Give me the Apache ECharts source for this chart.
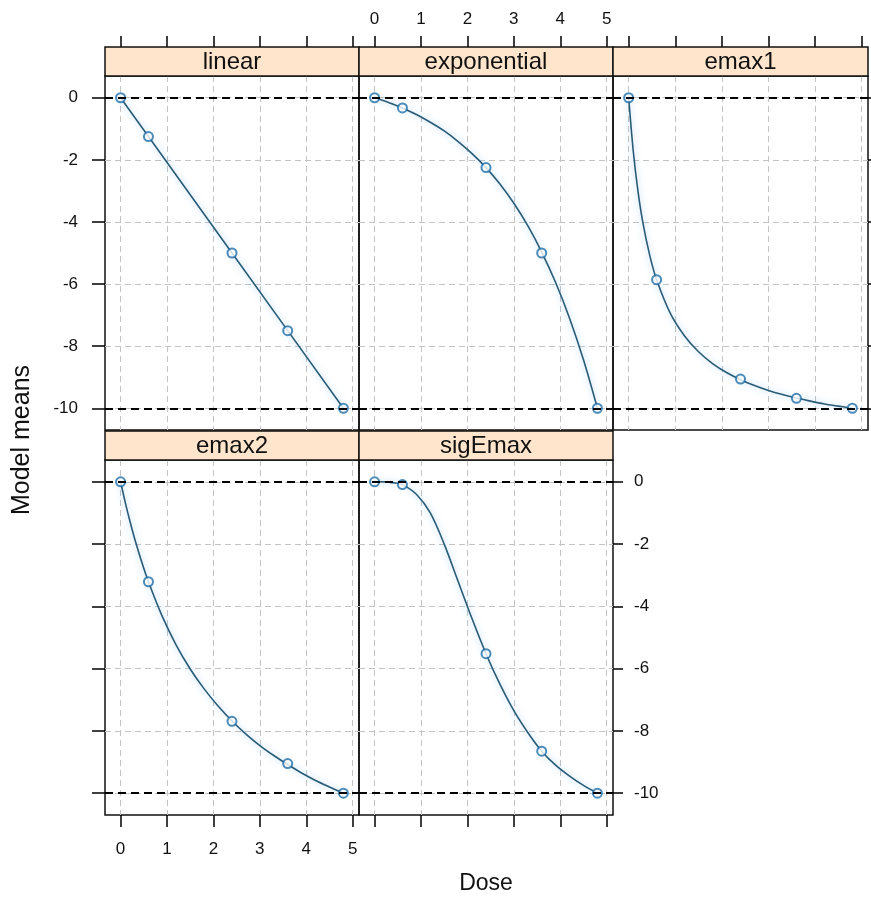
<!DOCTYPE html>
<html>
<head>
<meta charset="utf-8">
<title>Model means</title>
<script src="https://cdn.jsdelivr.net/npm/echarts@6/dist/echarts.min.js"></script>
<style>
  html, body { margin: 0; padding: 0; background: #fff; }
  #chart { width: 871px; height: 901px; }
</style>
</head>
<body>
<div id="chart"></div>
<script>
// doses and model means at the design points
const dose = [0, 0.6, 2.4, 3.6, 4.8]
const linearMeans = [0, -1.25, -5, -7.5, -10]
const exponentialMeans = [0, -0.33, -2.25, -5.0, -10]
const emax1Means = [0, -5.86, -9.06, -9.68, -10]
const emax2Means = [0, -3.21, -7.69, -9.05, -10]
const sigEmaxMeans = [0, -0.09, -5.52, -8.65, -10]

// fitted curves
const curveDose = [0, 0.1, 0.2, 0.3, 0.45, 0.6, 0.9, 1.2, 1.5, 1.8, 2.1, 2.4, 2.7, 3.0, 3.3, 3.6, 3.9, 4.2, 4.5, 4.8]
const exponentialCurve = [0, -0.05, -0.1, -0.15, -0.24, -0.33, -0.54, -0.79, -1.07, -1.41, -1.8, -2.25, -2.78, -3.4, -4.12, -4.97, -5.95, -7.1, -8.44, -10]
const emax1Curve = [0, -1.74, -3.01, -3.98, -5.06, -5.86, -6.96, -7.67, -8.18, -8.56, -8.85, -9.08, -9.27, -9.43, -9.56, -9.67, -9.77, -9.86, -9.93, -10]
const emax2Curve = [0, -0.66, -1.26, -1.81, -2.55, -3.21, -4.33, -5.25, -6.01, -6.65, -7.2, -7.68, -8.1, -8.47, -8.79, -9.08, -9.35, -9.59, -9.8, -10]
const sigEmaxCurve = [0, 0, 0, -0.01, -0.04, -0.09, -0.4, -1.0, -2.0, -3.2, -4.4, -5.52, -6.5, -7.35, -8.05, -8.65, -9.1, -9.45, -9.75, -10]

const doseTicks = [0, 1, 2, 3, 4, 5]
const meanTicks = [0, -2, -4, -6, -8, -10]
const refLevels = [0, -10]

// lattice-like 7% padding on the data range
const pad = (lo, hi) => [lo - 0.07 * (hi - lo), hi + 0.07 * (hi - lo)]
const [xMin, xMax] = pad(0, 4.8)
const [yMin, yMax] = pad(-10, 0)

const font = 'Liberation Sans, Arial, sans-serif'
const colLeft = [105, 359, 613]
const colW = [254, 254, 255]
const rowTop = [76, 460]
const plotH = [354, 355]
const stripH = 29

const panels = [
  { name: 'linear', row: 0, col: 0, means: linearMeans, cx: dose, cy: linearMeans, smooth: false, top: 'tick', left: 'label' },
  { name: 'exponential', row: 0, col: 1, means: exponentialMeans, cx: curveDose, cy: exponentialCurve, smooth: 0.3, top: 'label' },
  { name: 'emax1', row: 0, col: 2, means: emax1Means, cx: curveDose, cy: emax1Curve, smooth: 0.3, top: 'tick', right: 'tick' },
  { name: 'emax2', row: 1, col: 0, means: emax2Means, cx: curveDose, cy: emax2Curve, smooth: 0.3, left: 'tick', bottom: 'label' },
  { name: 'sigEmax', row: 1, col: 1, means: sigEmaxMeans, cx: curveDose, cy: sigEmaxCurve, smooth: 0.3, bottom: 'tick', right: 'label' }
]

const tickLine = { color: '#000', width: 1.5 }
const gridLine = { show: true, lineStyle: { color: '#c4c4c4', width: 1, type: [6, 4] } }
const labelStyle = { color: '#111', fontSize: 17, fontFamily: font }
const noLine = { show: false, onZero: false }

const grid = []
const xAxis = []
const yAxis = []
const series = []
const graphic = []

panels.forEach((p, i) => {
  grid.push({
    left: colLeft[p.col], top: rowTop[p.row], width: colW[p.col], height: plotH[p.row],
    show: true, borderColor: '#111', borderWidth: 1.5, containLabel: false
  })
  xAxis.push({
    gridIndex: i, type: 'value', position: 'bottom', min: xMin, max: xMax,
    axisLine: noLine,
    axisTick: { show: !!p.bottom, length: 12, lineStyle: tickLine, customValues: doseTicks },
    axisLabel: { show: p.bottom === 'label', customValues: doseTicks, margin: 26, ...labelStyle },
    splitLine: gridLine
  })
  xAxis.push({
    gridIndex: i, type: 'value', position: 'top', offset: stripH, min: xMin, max: xMax,
    axisLine: noLine,
    axisTick: { show: !!p.top, length: 11, lineStyle: tickLine, customValues: doseTicks },
    axisLabel: { show: p.top === 'label', customValues: doseTicks, margin: 19, ...labelStyle },
    splitLine: { show: false }
  })
  yAxis.push({
    gridIndex: i, type: 'value', position: 'left', min: yMin, max: yMax,
    axisLine: noLine,
    axisTick: { show: !!p.left, length: 13, lineStyle: tickLine, customValues: meanTicks },
    axisLabel: { show: p.left === 'label', customValues: meanTicks, margin: 27, ...labelStyle },
    splitLine: gridLine
  })
  yAxis.push({
    gridIndex: i, type: 'value', position: 'right', min: yMin, max: yMax,
    axisLine: noLine,
    axisTick: { show: !!p.right, length: 10, lineStyle: tickLine, customValues: meanTicks },
    axisLabel: { show: p.right === 'label', customValues: meanTicks, margin: 21, ...labelStyle },
    splitLine: { show: false }
  })

  series.push({
    name: p.name + ' curve', type: 'line',
    xAxisIndex: 2 * i, yAxisIndex: 2 * i,
    data: p.cx.map((x, k) => [x, p.cy[k]]),
    showSymbol: false, smooth: p.smooth, silent: true,
    lineStyle: { color: '#2a5c78', width: 1.6, shadowColor: 'rgba(80,170,240,0.5)', shadowBlur: 6 },
    markLine: {
      silent: true, symbol: 'none', label: { show: false },
      lineStyle: { color: '#000', width: 1.9, type: [8, 5] },
      data: refLevels.map(v => ({ yAxis: v }))
    },
    z: 3
  })
  series.push({
    name: p.name, type: 'scatter',
    xAxisIndex: 2 * i, yAxisIndex: 2 * i,
    data: dose.map((x, k) => [x, p.means[k]]),
    symbol: 'emptyCircle', symbolSize: 9,
    itemStyle: { color: '#1f6ea8', borderWidth: 1.6 },
    z: 4
  })

  // strip with the model name
  const sx = colLeft[p.col]
  const sy = rowTop[p.row] - stripH
  graphic.push({
    type: 'rect', shape: { x: sx, y: sy, width: colW[p.col], height: stripH },
    style: { fill: '#ffe5cc', stroke: '#111', lineWidth: 1.5 }, z: 10
  })
  graphic.push({
    type: 'text', x: sx + colW[p.col] / 2, y: sy + stripH / 2 + 1,
    style: { text: p.name, align: 'center', verticalAlign: 'middle', fill: '#111', font: '24px ' + font }, z: 11
  })
})

graphic.push({
  type: 'text', x: 22, y: 440, rotation: Math.PI / 2,
  style: { text: 'Model means', align: 'center', verticalAlign: 'middle', fill: '#111', font: '25px ' + font }
})
graphic.push({
  type: 'text', x: 486, y: 884,
  style: { text: 'Dose', align: 'center', verticalAlign: 'middle', fill: '#111', font: '23px ' + font }
})

const chart = echarts.init(document.getElementById('chart'), null, { renderer: 'canvas' })
chart.setOption({
  backgroundColor: '#fff',
  animation: false,
  grid, xAxis, yAxis, series, graphic
})
</script>
</body>
</html>
